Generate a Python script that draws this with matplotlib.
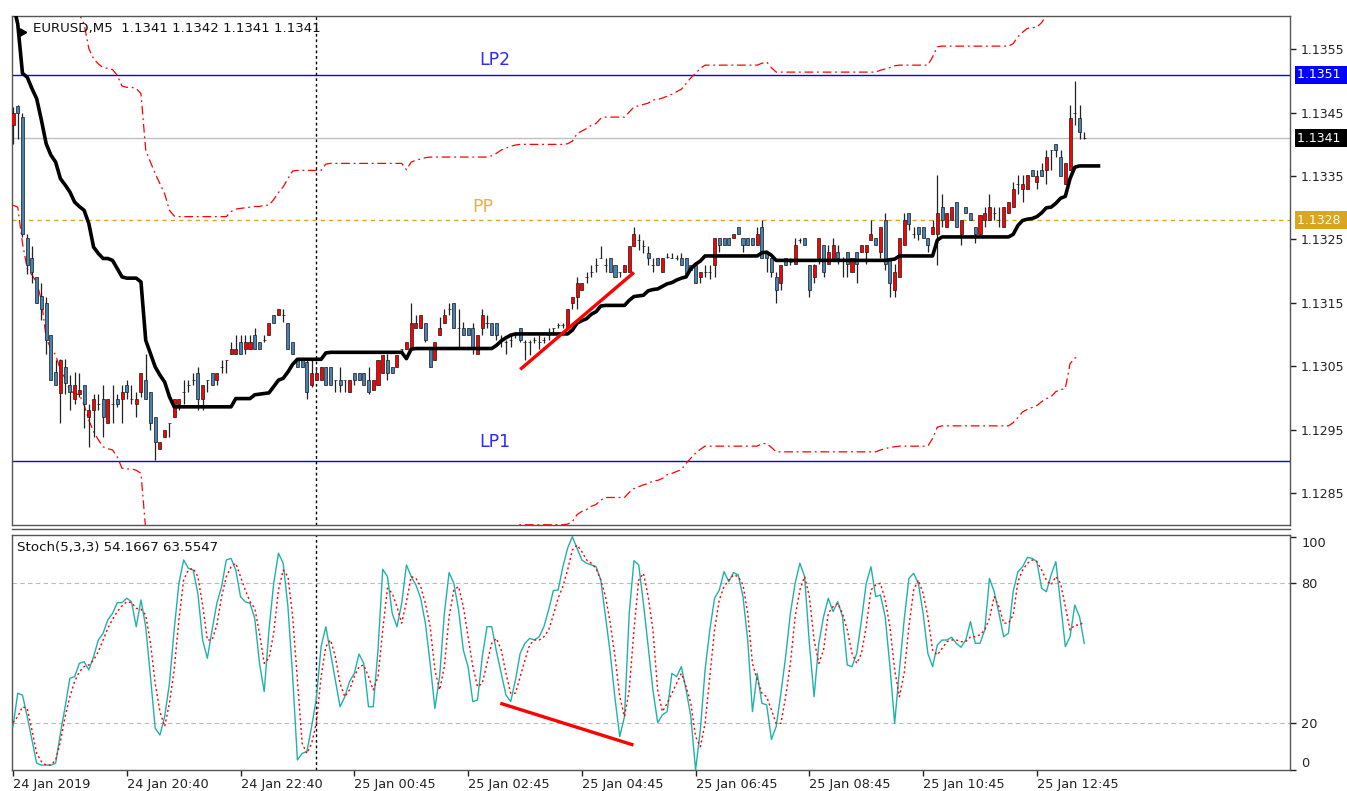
import numpy as np
import matplotlib.pyplot as plt
import matplotlib.transforms as mtransforms
from matplotlib.lines import Line2D

# ─── DATA (EURUSD M5) ──────────────────────────────────────────────────────

OPEN = [
    1.13430, 1.13460, 1.13443, 1.13252, 1.13220, 1.13191, 1.13161, 1.13149, 1.13099, 1.13041,
    1.13008, 1.13049, 1.13020, 1.12999, 1.13007, 1.13020, 1.12970, 1.12981, 1.12991, 1.12999,
    1.12960, 1.12991, 1.12999, 1.12999, 1.13020, 1.12999, 1.12991, 1.13010, 1.13029, 1.13010,
    1.12970, 1.12920, 1.12939, 1.12960, 1.12970, 1.12991, 1.13010, 1.13020, 1.13029, 1.13040,
    1.12999, 1.13029, 1.13040, 1.13029, 1.13049, 1.13060, 1.13070, 1.13070, 1.13089, 1.13078,
    1.13078, 1.13099, 1.13089, 1.13091, 1.13099, 1.13131, 1.13131, 1.13131, 1.13119, 1.13089,
    1.13060, 1.13060, 1.13057, 1.13020, 1.13029, 1.13029, 1.13049, 1.13049, 1.13029, 1.13029,
    1.13029, 1.13010, 1.13040, 1.13040, 1.13040, 1.13029, 1.13012, 1.13020, 1.13040, 1.13060,
    1.13049, 1.13049, 1.13078, 1.13078, 1.13078, 1.13110, 1.13110, 1.13119, 1.13078, 1.13060,
    1.13099, 1.13119, 1.13140, 1.13149, 1.13110, 1.13110, 1.13110, 1.13110, 1.13070, 1.13110,
    1.13119, 1.13119, 1.13119, 1.13091, 1.13089, 1.13091, 1.13099, 1.13110, 1.13089, 1.13089,
    1.13091, 1.13089, 1.13091, 1.13099, 1.13110, 1.13115, 1.13115, 1.13110, 1.13149, 1.13160,
    1.13170, 1.13191, 1.13199, 1.13209, 1.13220, 1.13209, 1.13220, 1.13209, 1.13199, 1.13199,
    1.13199, 1.13239, 1.13249, 1.13239, 1.13228, 1.13209, 1.13220, 1.13199, 1.13223, 1.13220,
    1.13220, 1.13220, 1.13220, 1.13209, 1.13209, 1.13191, 1.13199, 1.13199, 1.13209, 1.13252,
    1.13252, 1.13252, 1.13252, 1.13270, 1.13252, 1.13252, 1.13252, 1.13241, 1.13270, 1.13228,
    1.13220, 1.13191, 1.13181, 1.13220, 1.13215, 1.13212, 1.13249, 1.13252, 1.13209, 1.13191,
    1.13220, 1.13241, 1.13212, 1.13220, 1.13230, 1.13217, 1.13230, 1.13199, 1.13230, 1.13230,
    1.13230, 1.13249, 1.13252, 1.13230, 1.13280, 1.13220, 1.13170, 1.13191, 1.13241, 1.13291,
    1.13259, 1.13270, 1.13270, 1.13252, 1.13259, 1.13259, 1.13301, 1.13270, 1.13280, 1.13309,
    1.13259, 1.13301, 1.13291, 1.13270, 1.13259, 1.13280, 1.13280, 1.13291, 1.13280, 1.13270,
    1.13291, 1.13301, 1.13338, 1.13330, 1.13330, 1.13359, 1.13341, 1.13359, 1.13359, 1.13391,
    1.13400, 1.13380, 1.13338, 1.13359, 1.13450, 1.13441, 1.13410,
]
HIGH = [
    1.13459, 1.13462, 1.13449, 1.13259, 1.13239, 1.13191, 1.13181, 1.13160, 1.13099, 1.13060,
    1.13061, 1.13062, 1.13036, 1.13041, 1.13039, 1.13020, 1.12991, 1.13007, 1.13007, 1.13020,
    1.12999, 1.13020, 1.13007, 1.13020, 1.13029, 1.13020, 1.13010, 1.13040, 1.13070, 1.13010,
    1.12970, 1.12930, 1.12949, 1.12960, 1.12999, 1.12999, 1.13029, 1.13029, 1.13040, 1.13049,
    1.13020, 1.13029, 1.13040, 1.13040, 1.13060, 1.13060, 1.13089, 1.13099, 1.13099, 1.13099,
    1.13099, 1.13110, 1.13089, 1.13099, 1.13119, 1.13131, 1.13140, 1.13140, 1.13119, 1.13089,
    1.13062, 1.13060, 1.13060, 1.13060, 1.13049, 1.13049, 1.13049, 1.13049, 1.13029, 1.13049,
    1.13029, 1.13029, 1.13040, 1.13040, 1.13040, 1.13049, 1.13029, 1.13060, 1.13068, 1.13070,
    1.13049, 1.13068, 1.13078, 1.13089, 1.13149, 1.13131, 1.13131, 1.13119, 1.13078, 1.13089,
    1.13128, 1.13140, 1.13149, 1.13149, 1.13140, 1.13120, 1.13110, 1.13119, 1.13099, 1.13140,
    1.13131, 1.13119, 1.13119, 1.13099, 1.13091, 1.13099, 1.13104, 1.13110, 1.13091, 1.13091,
    1.13096, 1.13099, 1.13096, 1.13110, 1.13110, 1.13119, 1.13119, 1.13140, 1.13160, 1.13191,
    1.13181, 1.13199, 1.13209, 1.13220, 1.13239, 1.13220, 1.13220, 1.13209, 1.13199, 1.13209,
    1.13239, 1.13270, 1.13259, 1.13249, 1.13239, 1.13220, 1.13220, 1.13220, 1.13228, 1.13228,
    1.13225, 1.13228, 1.13220, 1.13209, 1.13209, 1.13199, 1.13209, 1.13209, 1.13252, 1.13252,
    1.13252, 1.13252, 1.13259, 1.13270, 1.13252, 1.13252, 1.13252, 1.13270, 1.13280, 1.13228,
    1.13220, 1.13199, 1.13209, 1.13220, 1.13220, 1.13252, 1.13252, 1.13252, 1.13209, 1.13212,
    1.13252, 1.13241, 1.13241, 1.13252, 1.13241, 1.13223, 1.13230, 1.13220, 1.13230, 1.13241,
    1.13241, 1.13280, 1.13252, 1.13270, 1.13291, 1.13220, 1.13212, 1.13252, 1.13291, 1.13291,
    1.13270, 1.13270, 1.13270, 1.13252, 1.13280, 1.13351, 1.13322, 1.13291, 1.13301, 1.13309,
    1.13280, 1.13301, 1.13291, 1.13270, 1.13288, 1.13301, 1.13322, 1.13301, 1.13301, 1.13301,
    1.13309, 1.13341, 1.13351, 1.13351, 1.13351, 1.13360, 1.13360, 1.13370, 1.13391, 1.13391,
    1.13400, 1.13391, 1.13370, 1.13462, 1.13500, 1.13462, 1.13420,
]
LOW = [
    1.13401, 1.13409, 1.13254, 1.13196, 1.13181, 1.13149, 1.13123, 1.13070, 1.13029, 1.13020,
    1.12960, 1.13007, 1.12981, 1.12991, 1.13002, 1.12952, 1.12923, 1.12939, 1.12981, 1.12939,
    1.12960, 1.12960, 1.12986, 1.12960, 1.12999, 1.12991, 1.12970, 1.13002, 1.12999, 1.12949,
    1.12902, 1.12920, 1.12939, 1.12939, 1.12970, 1.12981, 1.12991, 1.13010, 1.13020, 1.12981,
    1.12981, 1.13010, 1.13020, 1.13020, 1.13039, 1.13040, 1.13070, 1.13070, 1.13070, 1.13070,
    1.13078, 1.13078, 1.13078, 1.13089, 1.13099, 1.13119, 1.13131, 1.13120, 1.13078, 1.13070,
    1.13049, 1.13049, 1.12999, 1.13018, 1.13028, 1.13029, 1.13020, 1.13020, 1.13010, 1.13010,
    1.13010, 1.13010, 1.13020, 1.13029, 1.13020, 1.13007, 1.13012, 1.13020, 1.13040, 1.13029,
    1.13040, 1.13049, 1.13068, 1.13078, 1.13078, 1.13110, 1.13110, 1.13089, 1.13049, 1.13060,
    1.13099, 1.13119, 1.13131, 1.13110, 1.13078, 1.13099, 1.13099, 1.13070, 1.13070, 1.13099,
    1.13110, 1.13099, 1.13091, 1.13081, 1.13070, 1.13081, 1.13094, 1.13089, 1.13060, 1.13068,
    1.13086, 1.13078, 1.13086, 1.13091, 1.13099, 1.13110, 1.13110, 1.13110, 1.13140, 1.13140,
    1.13170, 1.13181, 1.13191, 1.13199, 1.13220, 1.13199, 1.13199, 1.13191, 1.13191, 1.13199,
    1.13199, 1.13239, 1.13233, 1.13228, 1.13209, 1.13199, 1.13209, 1.13199, 1.13220, 1.13220,
    1.13217, 1.13209, 1.13196, 1.13202, 1.13181, 1.13181, 1.13191, 1.13188, 1.13191, 1.13230,
    1.13241, 1.13241, 1.13252, 1.13259, 1.13230, 1.13241, 1.13241, 1.13241, 1.13220, 1.13199,
    1.13191, 1.13149, 1.13170, 1.13209, 1.13209, 1.13212, 1.13244, 1.13241, 1.13160, 1.13181,
    1.13212, 1.13191, 1.13212, 1.13220, 1.13212, 1.13191, 1.13191, 1.13199, 1.13181, 1.13230,
    1.13212, 1.13249, 1.13241, 1.13220, 1.13202, 1.13160, 1.13160, 1.13191, 1.13241, 1.13265,
    1.13252, 1.13249, 1.13252, 1.13230, 1.13259, 1.13209, 1.13270, 1.13270, 1.13280, 1.13270,
    1.13241, 1.13291, 1.13280, 1.13244, 1.13259, 1.13270, 1.13280, 1.13280, 1.13270, 1.13270,
    1.13291, 1.13301, 1.13322, 1.13309, 1.13330, 1.13350, 1.13330, 1.13350, 1.13338, 1.13359,
    1.13380, 1.13350, 1.13338, 1.13359, 1.13430, 1.13409, 1.13409,
]
CLOSE = [
    1.13449, 1.13450, 1.13259, 1.13209, 1.13199, 1.13149, 1.13140, 1.13091, 1.13029, 1.13020,
    1.13060, 1.13023, 1.13010, 1.13020, 1.13012, 1.12991, 1.12981, 1.12999, 1.12991, 1.12970,
    1.12999, 1.12991, 1.12991, 1.13010, 1.13010, 1.12999, 1.12999, 1.13040, 1.12999, 1.12960,
    1.12930, 1.12930, 1.12949, 1.12960, 1.12999, 1.12999, 1.13010, 1.13020, 1.13029, 1.12999,
    1.13020, 1.13029, 1.13020, 1.13040, 1.13049, 1.13060, 1.13078, 1.13078, 1.13070, 1.13089,
    1.13089, 1.13078, 1.13078, 1.13091, 1.13119, 1.13119, 1.13140, 1.13131, 1.13078, 1.13070,
    1.13049, 1.13049, 1.13010, 1.13039, 1.13040, 1.13049, 1.13020, 1.13020, 1.13029, 1.13020,
    1.13029, 1.13029, 1.13029, 1.13029, 1.13020, 1.13010, 1.13029, 1.13060, 1.13068, 1.13040,
    1.13040, 1.13068, 1.13078, 1.13089, 1.13119, 1.13119, 1.13131, 1.13091, 1.13049, 1.13089,
    1.13110, 1.13131, 1.13140, 1.13110, 1.13110, 1.13099, 1.13099, 1.13078, 1.13099, 1.13131,
    1.13119, 1.13099, 1.13099, 1.13091, 1.13089, 1.13091, 1.13099, 1.13091, 1.13089, 1.13089,
    1.13091, 1.13089, 1.13091, 1.13099, 1.13110, 1.13115, 1.13115, 1.13140, 1.13160, 1.13181,
    1.13181, 1.13191, 1.13199, 1.13209, 1.13220, 1.13209, 1.13199, 1.13191, 1.13199, 1.13209,
    1.13239, 1.13259, 1.13249, 1.13239, 1.13220, 1.13209, 1.13209, 1.13220, 1.13223, 1.13220,
    1.13220, 1.13209, 1.13196, 1.13202, 1.13181, 1.13199, 1.13199, 1.13199, 1.13252, 1.13241,
    1.13241, 1.13241, 1.13259, 1.13259, 1.13241, 1.13241, 1.13241, 1.13259, 1.13220, 1.13220,
    1.13199, 1.13170, 1.13209, 1.13209, 1.13215, 1.13241, 1.13249, 1.13241, 1.13170, 1.13209,
    1.13252, 1.13199, 1.13230, 1.13241, 1.13220, 1.13217, 1.13212, 1.13220, 1.13212, 1.13241,
    1.13241, 1.13259, 1.13241, 1.13270, 1.13212, 1.13181, 1.13199, 1.13252, 1.13280, 1.13275,
    1.13259, 1.13259, 1.13252, 1.13241, 1.13270, 1.13291, 1.13280, 1.13291, 1.13301, 1.13270,
    1.13280, 1.13291, 1.13280, 1.13259, 1.13288, 1.13291, 1.13301, 1.13291, 1.13280, 1.13301,
    1.13309, 1.13330, 1.13338, 1.13338, 1.13351, 1.13350, 1.13350, 1.13350, 1.13380, 1.13391,
    1.13391, 1.13350, 1.13370, 1.13441, 1.13450, 1.13420, 1.13410,
]

# thick black indicator line (runs 3 bars past the last candle)
MA_LINE = [
    1.13622, 1.13590, 1.13512, 1.13506, 1.13488, 1.13472, 1.13438, 1.13401, 1.13383, 1.13372,
    1.13346, 1.13336, 1.13325, 1.13309, 1.13302, 1.13296, 1.13275, 1.13238, 1.13228, 1.13220,
    1.13220, 1.13217, 1.13204, 1.13191, 1.13189, 1.13189, 1.13189, 1.13183, 1.13091, 1.13070,
    1.13049, 1.13036, 1.13025, 1.13002, 1.12986, 1.12986, 1.12986, 1.12986, 1.12986, 1.12986,
    1.12986, 1.12986, 1.12986, 1.12986, 1.12986, 1.12986, 1.12986, 1.12999, 1.12999, 1.12999,
    1.12999, 1.13005, 1.13006, 1.13007, 1.13008, 1.13018, 1.13028, 1.13031, 1.13041, 1.13053,
    1.13061, 1.13061, 1.13061, 1.13061, 1.13061, 1.13061, 1.13071, 1.13072, 1.13072, 1.13072,
    1.13072, 1.13072, 1.13072, 1.13072, 1.13072, 1.13072, 1.13072, 1.13072, 1.13072, 1.13072,
    1.13072, 1.13072, 1.13072, 1.13062, 1.13077, 1.13078, 1.13078, 1.13078, 1.13078, 1.13078,
    1.13078, 1.13078, 1.13078, 1.13078, 1.13078, 1.13078, 1.13078, 1.13078, 1.13078, 1.13078,
    1.13078, 1.13078, 1.13083, 1.13090, 1.13095, 1.13099, 1.13101, 1.13101, 1.13101, 1.13101,
    1.13101, 1.13101, 1.13101, 1.13101, 1.13101, 1.13101, 1.13101, 1.13101, 1.13107, 1.13118,
    1.13122, 1.13125, 1.13132, 1.13136, 1.13145, 1.13146, 1.13146, 1.13146, 1.13146, 1.13146,
    1.13154, 1.13160, 1.13161, 1.13162, 1.13169, 1.13171, 1.13172, 1.13176, 1.13180, 1.13182,
    1.13186, 1.13189, 1.13191, 1.13204, 1.13211, 1.13216, 1.13224, 1.13224, 1.13224, 1.13224,
    1.13224, 1.13224, 1.13224, 1.13224, 1.13224, 1.13224, 1.13224, 1.13224, 1.13229, 1.13230,
    1.13225, 1.13217, 1.13217, 1.13217, 1.13217, 1.13217, 1.13217, 1.13217, 1.13217, 1.13217,
    1.13217, 1.13217, 1.13217, 1.13217, 1.13217, 1.13217, 1.13217, 1.13217, 1.13217, 1.13217,
    1.13217, 1.13217, 1.13217, 1.13217, 1.13217, 1.13218, 1.13219, 1.13224, 1.13224, 1.13224,
    1.13224, 1.13224, 1.13224, 1.13224, 1.13224, 1.13249, 1.13254, 1.13254, 1.13254, 1.13254,
    1.13254, 1.13254, 1.13254, 1.13254, 1.13254, 1.13254, 1.13254, 1.13254, 1.13254, 1.13254,
    1.13254, 1.13258, 1.13272, 1.13280, 1.13282, 1.13283, 1.13286, 1.13292, 1.13300, 1.13301,
    1.13307, 1.13315, 1.13318, 1.13346, 1.13364, 1.13366, 1.13366, 1.13366, 1.13366, 1.13366,
]

# red dash-dot envelope, upper and lower band
ENV_UP = [
    1.13904, 1.13901, 1.13844, 1.13804, 1.13794, 1.13782, 1.13754, 1.13694, 1.13678, 1.13668,
    1.13644, 1.13631, 1.13612, 1.13607, 1.13605, 1.13590, 1.13551, 1.13535, 1.13527, 1.13521,
    1.13520, 1.13518, 1.13509, 1.13492, 1.13490, 1.13490, 1.13488, 1.13480, 1.13391, 1.13372,
    1.13354, 1.13338, 1.13322, 1.13296, 1.13287, 1.13286, 1.13286, 1.13286, 1.13286, 1.13286,
    1.13286, 1.13286, 1.13286, 1.13286, 1.13286, 1.13286, 1.13294, 1.13298, 1.13299, 1.13300,
    1.13301, 1.13302, 1.13302, 1.13304, 1.13304, 1.13313, 1.13324, 1.13333, 1.13346, 1.13358,
    1.13359, 1.13359, 1.13359, 1.13359, 1.13359, 1.13359, 1.13369, 1.13370, 1.13370, 1.13370,
    1.13370, 1.13370, 1.13370, 1.13370, 1.13370, 1.13370, 1.13370, 1.13370, 1.13370, 1.13370,
    1.13370, 1.13370, 1.13370, 1.13360, 1.13372, 1.13375, 1.13377, 1.13379, 1.13380, 1.13380,
    1.13380, 1.13380, 1.13380, 1.13380, 1.13380, 1.13380, 1.13380, 1.13380, 1.13380, 1.13380,
    1.13380, 1.13382, 1.13386, 1.13391, 1.13394, 1.13397, 1.13399, 1.13400, 1.13400, 1.13400,
    1.13400, 1.13400, 1.13400, 1.13400, 1.13400, 1.13400, 1.13400, 1.13401, 1.13405, 1.13417,
    1.13421, 1.13425, 1.13430, 1.13433, 1.13441, 1.13443, 1.13443, 1.13443, 1.13443, 1.13443,
    1.13451, 1.13459, 1.13461, 1.13463, 1.13465, 1.13470, 1.13471, 1.13473, 1.13476, 1.13479,
    1.13483, 1.13487, 1.13496, 1.13505, 1.13512, 1.13520, 1.13525, 1.13525, 1.13525, 1.13525,
    1.13525, 1.13525, 1.13525, 1.13525, 1.13525, 1.13525, 1.13525, 1.13525, 1.13528, 1.13530,
    1.13521, 1.13514, 1.13514, 1.13514, 1.13514, 1.13514, 1.13514, 1.13514, 1.13514, 1.13514,
    1.13514, 1.13514, 1.13514, 1.13514, 1.13514, 1.13514, 1.13514, 1.13514, 1.13514, 1.13514,
    1.13514, 1.13514, 1.13514, 1.13517, 1.13519, 1.13521, 1.13524, 1.13525, 1.13525, 1.13525,
    1.13525, 1.13525, 1.13525, 1.13525, 1.13538, 1.13554, 1.13555, 1.13555, 1.13555, 1.13555,
    1.13555, 1.13555, 1.13555, 1.13555, 1.13555, 1.13555, 1.13555, 1.13555, 1.13555, 1.13555,
    1.13555, 1.13559, 1.13570, 1.13577, 1.13583, 1.13584, 1.13585, 1.13592, 1.13604, 1.13610,
    1.13612, 1.13615, 1.13618, 1.13650, 1.13660, 1.13665,
]
ENV_DN = [
    1.13304, 1.13301, 1.13244, 1.13204, 1.13194, 1.13182, 1.13154, 1.13094, 1.13078, 1.13068,
    1.13044, 1.13031, 1.13012, 1.13007, 1.13005, 1.12989, 1.12965, 1.12947, 1.12934, 1.12923,
    1.12920, 1.12918, 1.12907, 1.12889, 1.12888, 1.12888, 1.12886, 1.12881, 1.12792, 1.12771,
    1.12752, 1.12738, 1.12721, 1.12695, 1.12685, 1.12684, 1.12684, 1.12684, 1.12684, 1.12684,
    1.12684, 1.12684, 1.12684, 1.12684, 1.12684, 1.12684, 1.12692, 1.12696, 1.12696, 1.12699,
    1.12699, 1.12701, 1.12701, 1.12702, 1.12702, 1.12711, 1.12722, 1.12731, 1.12744, 1.12756,
    1.12758, 1.12758, 1.12758, 1.12758, 1.12758, 1.12758, 1.12767, 1.12768, 1.12768, 1.12768,
    1.12768, 1.12768, 1.12768, 1.12768, 1.12768, 1.12768, 1.12768, 1.12768, 1.12768, 1.12768,
    1.12768, 1.12768, 1.12768, 1.12759, 1.12771, 1.12774, 1.12776, 1.12777, 1.12779, 1.12779,
    1.12779, 1.12779, 1.12779, 1.12779, 1.12779, 1.12779, 1.12779, 1.12779, 1.12779, 1.12779,
    1.12779, 1.12780, 1.12784, 1.12789, 1.12793, 1.12796, 1.12798, 1.12800, 1.12800, 1.12800,
    1.12800, 1.12800, 1.12800, 1.12800, 1.12800, 1.12800, 1.12800, 1.12801, 1.12805, 1.12816,
    1.12821, 1.12824, 1.12829, 1.12832, 1.12839, 1.12843, 1.12843, 1.12843, 1.12843, 1.12843,
    1.12851, 1.12857, 1.12860, 1.12863, 1.12865, 1.12869, 1.12870, 1.12873, 1.12879, 1.12881,
    1.12884, 1.12887, 1.12897, 1.12905, 1.12913, 1.12919, 1.12924, 1.12924, 1.12924, 1.12924,
    1.12924, 1.12924, 1.12924, 1.12924, 1.12924, 1.12924, 1.12924, 1.12924, 1.12928, 1.12928,
    1.12922, 1.12915, 1.12915, 1.12915, 1.12915, 1.12915, 1.12915, 1.12915, 1.12915, 1.12915,
    1.12915, 1.12915, 1.12915, 1.12915, 1.12915, 1.12915, 1.12915, 1.12915, 1.12915, 1.12915,
    1.12915, 1.12915, 1.12915, 1.12918, 1.12920, 1.12922, 1.12923, 1.12924, 1.12924, 1.12924,
    1.12924, 1.12924, 1.12924, 1.12924, 1.12936, 1.12954, 1.12956, 1.12956, 1.12956, 1.12956,
    1.12956, 1.12956, 1.12956, 1.12956, 1.12956, 1.12956, 1.12956, 1.12956, 1.12956, 1.12956,
    1.12956, 1.12961, 1.12969, 1.12978, 1.12982, 1.12985, 1.12988, 1.12994, 1.12999, 1.13002,
    1.13010, 1.13013, 1.13015, 1.13054, 1.13063, 1.13065,
]

# Stochastic (5,3,3): main and signal
STOCH_K = [
    18.6, 32.9, 32.1, 22.9, 12.9, 2.9, 2.1, 2.1, 2.1, 2.9,
    15.7, 27.1, 39.3, 40.0, 45.7, 46.4, 42.9, 48.6, 55.7, 58.6,
    64.3, 67.1, 71.7, 71.7, 73.6, 72.1, 61.4, 72.9, 61.4, 40.0,
    17.9, 15.0, 22.9, 37.1, 60.0, 80.0, 90.0, 86.4, 85.7, 75.7,
    55.7, 47.9, 60.0, 71.4, 78.6, 90.0, 90.7, 85.7, 74.3, 72.1,
    71.4, 65.0, 45.7, 33.6, 60.0, 80.0, 92.9, 88.6, 70.0, 40.0,
    4.3, 7.1, 7.9, 18.6, 30.7, 52.9, 61.4, 50.0, 38.6, 27.1,
    31.4, 37.9, 41.4, 49.7, 45.7, 27.1, 27.1, 51.4, 86.0, 82.9,
    67.1, 61.4, 71.4, 87.9, 82.9, 79.3, 73.6, 62.9, 45.7, 26.4,
    40.0, 67.1, 84.6, 80.0, 68.6, 51.4, 44.3, 29.3, 30.0, 48.6,
    61.4, 61.4, 50.7, 41.4, 32.1, 29.3, 38.6, 50.0, 54.3, 56.4,
    55.7, 57.1, 61.4, 68.6, 76.9, 77.1, 87.1, 95.0, 100.0, 95.0,
    90.0, 88.6, 87.9, 87.1, 81.4, 65.7, 50.0, 30.7, 14.3, 22.9,
    67.1, 89.7, 87.9, 71.4, 52.9, 34.3, 20.3, 23.6, 25.0, 41.4,
    40.0, 44.3, 34.3, 22.9, 0.0, 17.1, 42.9, 60.0, 73.6, 77.1,
    85.0, 80.7, 84.6, 83.6, 74.3, 55.7, 25.0, 41.4, 28.6, 27.9,
    13.1, 18.6, 32.9, 48.6, 67.1, 80.0, 88.6, 82.9, 54.3, 31.4,
    54.3, 65.7, 73.6, 67.9, 72.1, 65.7, 45.0, 44.3, 50.0, 64.3,
    80.0, 87.1, 74.3, 75.0, 65.7, 44.3, 20.0, 42.9, 64.3, 82.1,
    84.3, 80.0, 67.1, 50.0, 44.3, 53.6, 55.7, 55.7, 56.9, 54.3,
    52.6, 55.7, 63.6, 54.3, 54.3, 60.0, 82.1, 76.4, 67.1, 57.1,
    58.6, 76.4, 85.0, 87.1, 91.1, 90.7, 89.3, 77.9, 76.4, 83.6,
    89.3, 71.4, 52.9, 57.1, 70.7, 65.7, 54.2,
]
STOCH_D = [
    20.3, 22.9, 27.1, 26.4, 17.1, 7.1, 3.6, 2.1, 2.1, 4.3,
    12.1, 22.9, 31.4, 37.9, 42.1, 44.3, 45.0, 47.1, 50.7, 55.7,
    60.7, 64.6, 67.9, 70.3, 72.1, 71.7, 69.3, 68.9, 66.4, 54.3,
    37.1, 25.0, 18.6, 28.6, 42.9, 64.3, 81.4, 85.7, 86.4, 82.9,
    70.7, 55.7, 55.7, 62.1, 74.3, 82.9, 87.1, 88.6, 82.9, 77.1,
    72.1, 69.3, 58.6, 45.7, 47.9, 58.6, 77.1, 85.7, 82.9, 65.7,
    38.6, 11.4, 7.1, 11.4, 20.0, 40.0, 52.9, 55.7, 48.6, 37.1,
    31.4, 34.3, 40.0, 44.3, 45.0, 40.0, 34.3, 40.0, 60.0, 77.9,
    75.7, 70.0, 62.9, 72.1, 82.9, 82.1, 78.6, 71.4, 61.4, 42.9,
    34.3, 44.3, 65.7, 77.1, 78.6, 70.0, 57.1, 44.3, 35.7, 37.1,
    45.7, 54.3, 56.4, 51.4, 41.4, 32.9, 32.9, 40.0, 47.1, 53.6,
    55.7, 55.7, 57.1, 60.0, 66.4, 73.6, 78.6, 85.7, 94.3, 96.4,
    93.6, 90.0, 88.6, 86.4, 81.4, 74.3, 62.9, 48.6, 31.4, 22.9,
    34.3, 60.0, 81.4, 84.3, 74.3, 60.0, 34.3, 25.0, 28.6, 32.9,
    37.1, 41.4, 35.7, 28.6, 14.3, 10.0, 20.0, 40.0, 60.0, 72.9,
    78.6, 81.4, 83.6, 82.9, 79.3, 67.1, 45.7, 38.6, 32.9, 31.4,
    25.7, 20.0, 20.0, 31.4, 45.7, 65.7, 77.1, 82.9, 74.3, 55.7,
    45.7, 51.4, 67.1, 70.0, 71.4, 67.1, 60.0, 50.0, 45.7, 50.0,
    61.4, 77.1, 79.3, 80.0, 72.9, 61.4, 42.9, 31.4, 41.4, 61.4,
    77.1, 81.4, 75.7, 65.7, 51.4, 49.3, 52.1, 55.0, 55.7, 55.7,
    55.0, 55.0, 57.1, 57.1, 57.9, 60.0, 65.0, 74.3, 70.0, 62.9,
    62.9, 66.4, 80.7, 85.7, 88.6, 90.0, 89.3, 85.7, 81.4, 79.3,
    82.9, 80.0, 70.0, 60.0, 62.1, 62.1, 63.6,
]

# hand-drawn divergence lines: (bar, value) end points
TREND_PRICE_X = [107.0, 131.0]
TREND_PRICE_Y = [1.13045, 1.13198]
TREND_STOCH_X = [102.8, 130.9]
TREND_STOCH_Y = [28.6, 10.7]

# horizontal levels
LP2, PP, LP1, BID = 1.1351, 1.1328, 1.1290, 1.1341
VLINE_BAR = 64

PRICE_TICKS = [1.1285, 1.1295, 1.1305, 1.1315, 1.1325, 1.1335, 1.1345, 1.1355]
TIME_TICKS = [0, 24, 48, 72, 96, 120, 144, 168, 192, 216]
TIME_LABELS = ["24 Jan 2019", "24 Jan 20:40", "24 Jan 22:40", "25 Jan 00:45",
               "25 Jan 02:45", "25 Jan 04:45", "25 Jan 06:45", "25 Jan 08:45",
               "25 Jan 10:45", "25 Jan 12:45"]

COLORS = {
    "bull":   "#FF0000",
    "bear":   "#4682B4",
    "lp":     "#0000FF",
    "pp":     "#DAA520",
    "bid":    "#C0C0C0",
    "k":      "#20B2AA",
    "d":      "#FF0000",
    "frame":  "#555555",
}

plt.rcParams.update({
    "font.family": "DejaVu Sans",
    "font.size": 9,
    "axes.edgecolor": COLORS["frame"],
    "axes.linewidth": 1.0,
})

W, H = 1347, 791
fig = plt.figure(figsize=(W / 100, H / 100), dpi=100)
fig.patch.set_facecolor("white")

# pixel boxes of the two panels
ax = fig.add_axes([12 / W, 1 - 525 / H, 1278 / W, 509 / H])
axs = fig.add_axes([12 / W, 1 - 770 / H, 1278 / W, 235 / H])

# window separator just under the price panel
fig.add_artist(Line2D([12 / W, 1290 / W], [1 - 528.5 / H, 1 - 528.5 / H],
                      color=COLORS["frame"], lw=1))

XLIM = (-0.21, 269.4)

# ─── PRICE PANEL ────────────────────────────────────────────────────────────

o = np.array(OPEN)
h = np.array(HIGH)
l = np.array(LOW)
c = np.array(CLOSE)
x = np.arange(len(o))

ax.plot(np.arange(len(ENV_UP)), ENV_UP, color="#FF0000", lw=0.9,
        ls=(0, (7, 3, 1.5, 3)), zorder=2)
ax.plot(np.arange(len(ENV_DN)), ENV_DN, color="#FF0000", lw=0.9,
        ls=(0, (7, 3, 1.5, 3)), zorder=2)

ax.axhline(BID, color=COLORS["bid"], lw=1, zorder=1)
ax.axhline(LP2, color=COLORS["lp"], lw=1, zorder=1)
ax.axhline(LP1, color=COLORS["lp"], lw=1, zorder=1)
ax.axhline(PP, color=COLORS["pp"], lw=1, ls=(0, (3, 3)), zorder=1)

ax.vlines(x, l, h, color="#222222", lw=0.9, zorder=3)
body_col = [COLORS["bull"] if cc >= oo else COLORS["bear"] for oo, cc in zip(o, c)]
ax.bar(x, np.abs(c - o), bottom=np.minimum(o, c), width=0.64, color=body_col,
       edgecolor="#1a1a1a", linewidth=0.5, zorder=4)

ax.plot(np.arange(len(MA_LINE)), MA_LINE, color="black", lw=2.6,
        solid_joinstyle="round", zorder=5)
ax.plot(2.0, 1.13578, marker=(3, 0, -90), color="black", ms=6, zorder=6)

ax.plot(TREND_PRICE_X, TREND_PRICE_Y, color="#FF0000", lw=2.4,
        solid_capstyle="butt", zorder=6)

ax.axvline(VLINE_BAR, color="black", lw=1, ls=(0, (2, 2)), zorder=2)

ax.text(101.7, 1.13533, "LP2", color="#2B2BFF", fontsize=12.5, ha="center", va="center")
ax.text(101.7, 1.12930, "LP1", color="#2B2BFF", fontsize=12.5, ha="center", va="center")
ax.text(99.1, 1.13301, "PP", color="#E8B04A", fontsize=12.5, ha="center", va="center")

ax.text(0.0165, 0.975, "EURUSD,M5  1.1341 1.1342 1.1341 1.1341",
        transform=ax.transAxes, ha="left", va="center", fontsize=9.6, color="#111111")

ax.set_xlim(*XLIM)
ax.set_ylim(1.127996, 1.136025)
ax.set_xticks([])
ax.yaxis.tick_right()
ax.set_yticks(PRICE_TICKS)
ax.set_yticklabels([f"{v:.4f}" for v in PRICE_TICKS])
ax.tick_params(axis="y", direction="out", length=4, width=1, pad=4,
               colors="#222222", labelsize=9)

# highlighted price tags on the right scale
trans = mtransforms.blended_transform_factory(ax.transAxes, ax.transData)
for val, fc in [(LP2, COLORS["lp"]), (BID, "black"), (PP, COLORS["pp"])]:
    ax.text(1.0055, val, f"{val:.4f} ", transform=trans, ha="left", va="center",
            color="white", fontsize=9, clip_on=False, zorder=10,
            bbox=dict(boxstyle="square,pad=0.2", fc=fc, ec="none"))

# ─── STOCHASTIC PANEL ───────────────────────────────────────────────────────

axs.axhline(80, color="#BBBBBB", lw=0.8, ls=(0, (4, 3)))
axs.axhline(20, color="#BBBBBB", lw=0.8, ls=(0, (4, 3)))
axs.plot(np.arange(len(STOCH_K)), STOCH_K, color=COLORS["k"], lw=1.0, zorder=3)
axs.plot(np.arange(len(STOCH_D)), STOCH_D, color=COLORS["d"], lw=1.0,
         ls=(0, (1.5, 2)), zorder=4)
axs.plot(TREND_STOCH_X, TREND_STOCH_Y, color="#FF0000", lw=2.4,
         solid_capstyle="butt", zorder=5)
axs.axvline(VLINE_BAR, color="black", lw=1, ls=(0, (2, 2)), zorder=2)

axs.text(0.004, 0.948, "Stoch(5,3,3) 54.1667 63.5547", transform=axs.transAxes,
         ha="left", va="center", fontsize=9.6, color="#111111")

axs.set_xlim(*XLIM)
axs.set_ylim(0, 100.7)
axs.yaxis.tick_right()
axs.set_yticks([0, 20, 80, 100])
axs.set_yticklabels(["0", "20", "80", "100"])
axs.tick_params(axis="y", direction="out", length=4, width=1, pad=4,
                colors="#222222", labelsize=9.3)
ylabs = axs.get_yticklabels()
ylabs[0].set_va("bottom")
ylabs[-1].set_va("top")

axs.set_xticks(TIME_TICKS)
axs.set_xticklabels(TIME_LABELS)
axs.tick_params(axis="x", direction="out", length=4, width=1, pad=2,
                colors="#222222", labelsize=9.3)
for lab in axs.get_xticklabels():
    lab.set_ha("left")

fig.savefig("out.png", dpi=100, facecolor="white")
